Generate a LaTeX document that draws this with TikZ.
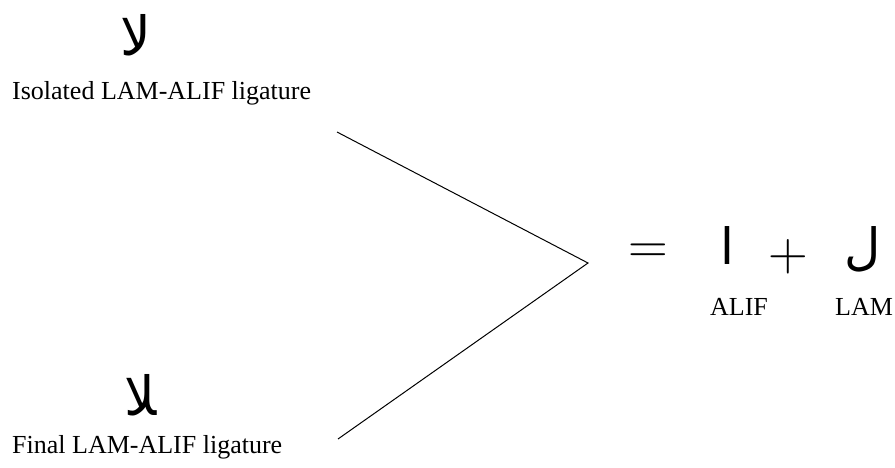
\documentclass[tikz,border=0pt]{standalone}
\usepackage{fontspec}
\setmainfont{Liberation Serif}
\newfontfamily\arabicfont[Script=Arabic]{DejaVu Sans}
\newfontfamily\opfont{Latin Modern Roman}
\TeXXeTstate=1
\usetikzlibrary{positioning}

\begin{document}
\begin{tikzpicture}[
    x=1pt, y=-1pt,
    caption/.style={inner sep=0pt, font=\fontsize{26}{30}\selectfont},
    letter/.style={inner sep=0pt, font=\fontsize{50}{60}\selectfont\arabicfont},
    ligature/.style={inner sep=0pt, font=\fontsize{54}{64}\selectfont\arabicfont},
    operator/.style={inner sep=0pt, font=\fontsize{55}{66}\selectfont\opfont},
    bracket/.style={draw, line width=1pt}
]

% Frame
\useasboundingbox (0,0) rectangle (895,468);

% Ligatures on the left
\node[ligature, anchor=base] (isolig) at (136,56) {\beginR ﻻ\endR};
\node[caption, anchor=base west] (isotext) at (12,100) {Isolated LAM-ALIF ligature};

\node[ligature, anchor=base] (finlig) at (141,415) {\beginR ﻼ\endR};
\node[caption, anchor=base west] (fintext) at (12,453) {Final LAM-ALIF ligature};

% Bracket
\coordinate (apex) at (588,263);
\coordinate (topend) at (337,132);
\coordinate (botend) at (338,439);
\draw[bracket] (topend) -- (apex) -- (botend);

% Letters on the right
\node[operator] (equals) at (648,254) {=};
\node[letter, anchor=base] (alif) at (727,265) {\beginR ا\endR};
\node[operator] (plus) at (788,257) {+};
\node[letter, anchor=base] (lam) at (863,265) {\beginR ل\endR};

\node[caption, anchor=base] (aliftext) at (739,315) {ALIF};
\node[caption, anchor=base] (lamtext) at (864,315) {LAM};

\end{tikzpicture}
\end{document}
